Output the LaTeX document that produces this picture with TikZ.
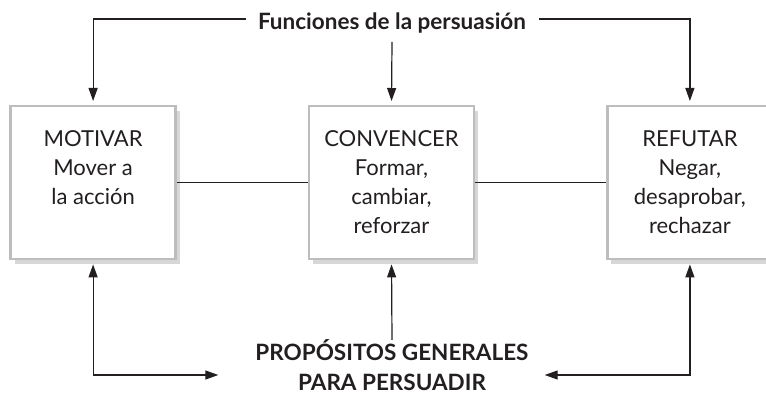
\documentclass[tikz,border=0pt]{standalone}
\usepackage{fontspec}
\setmainfont{Lato}
\usepackage{tikz}
\usetikzlibrary{arrows.meta,positioning,shadows}
\definecolor{ink}{HTML}{231F20}
\definecolor{boxline}{HTML}{BDBDBD}
\definecolor{shade}{HTML}{8C8C8C}
\newcommand{\fntext}[1]{\parbox[t]{165pt}{\centering\fontsize{22}{29}\selectfont #1}}

\begin{document}
\begin{tikzpicture}[
  x=1pt,y=1pt,
  node distance=131pt,
  fn/.style={draw=boxline,line width=2.4pt,fill=white,minimum width=165pt,inner sep=0pt,text height=40pt,text depth=113pt,text=ink,drop shadow={shadow xshift=4pt,shadow yshift=-5pt,fill=shade,opacity=0.35}},
  head/.style={font=\fontsize{22.5}{29}\selectfont\bfseries,text=ink,align=center,inner sep=0pt},
  arr/.style={-{Triangle[length=13pt,width=9pt]},line width=1.2pt,draw=ink,shorten >=4pt},
  dbl/.style={{Triangle[length=13pt,width=9pt]}-{Triangle[length=13pt,width=9pt]},line width=1.2pt,draw=ink,shorten <=4pt},
  link/.style={line width=1.2pt,draw=ink}
]
\useasboundingbox (0,0) rectangle (766,-395);

\node[fn,anchor=north] (convencer) at (391.5,-105) {\fntext{CONVENCER\\Formar,\\cambiar,\\reforzar}};
\node[fn,left=of convencer] (motivar) {\fntext{MOTIVAR\\Mover a\\la acción}};
\node[fn,right=of convencer] (refutar) {\fntext{REFUTAR\\Negar,\\desaprobar,\\rechazar}};

\node[head,anchor=base] (funciones) at (392,-30) {Funciones de la persuasión};
\node[head,anchor=base] (propositos) at (392,-390) {PROPÓSITOS GENERALES\\PARA PERSUADIR};

\coordinate (inL) at ([xshift=-37pt]propositos.west |- 0,-375);
\coordinate (inR) at ([xshift=16pt]propositos.east |- 0,-375);

\draw[link] (motivar) -- (convencer);
\draw[link] (convencer) -- (refutar);

\draw[arr] ([xshift=-12pt]funciones.west |- 0,-19) -| (motivar.north);
\draw[arr] ([xshift=13pt]funciones.east |- 0,-19) -| (refutar.north);
\draw[arr] ([yshift=-8pt]funciones.south) -- (convencer.north);

\draw[arr] (propositos.north) -- (convencer.south);
\draw[dbl] (motivar.south) |- (inL);
\draw[dbl] (refutar.south) |- (inR);
\end{tikzpicture}
\end{document}
